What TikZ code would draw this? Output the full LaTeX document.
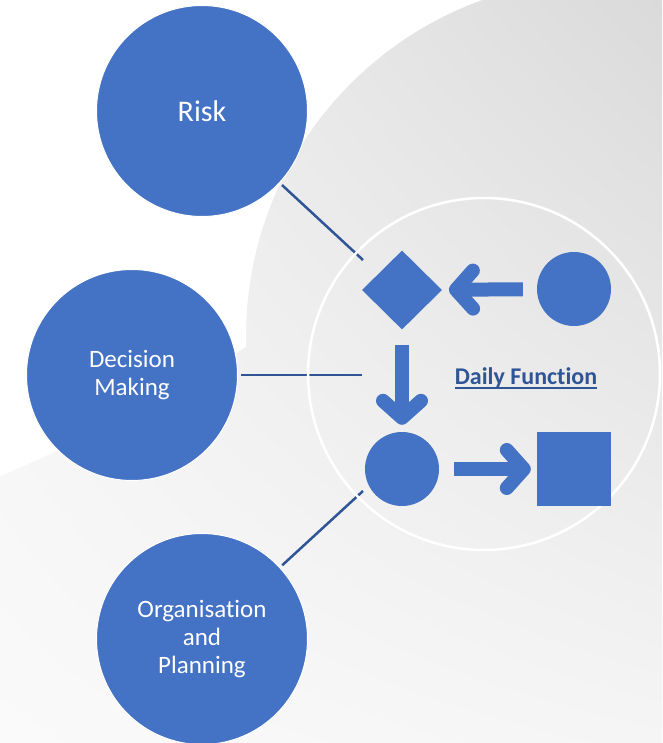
\documentclass[tikz,border=0pt]{standalone}
\usepackage{fontspec}
\setmainfont{Carlito}[Ligatures={NoCommon}]
\usetikzlibrary{arrows.meta,shapes.geometric,shadings}
\definecolor{blu}{HTML}{4472C4}
\definecolor{lineblue}{HTML}{2F5597}
\definecolor{txtblue}{HTML}{2F5597}
\definecolor{bgUL}{RGB}{242,242,242}
\definecolor{bgUR}{RGB}{218,218,218}
\definecolor{bgLL}{RGB}{250,250,250}
\definecolor{bgLR}{RGB}{245,245,245}
\newcommand\dailyul[1]{\leavevmode\setbox0=\hbox{#1}\rlap{\vrule height -3pt depth 4.8pt width \wd0}\box0}
\begin{document}
\begin{tikzpicture}[x=1pt,y=-1pt,
  bigcirc/.style={circle, fill=blu, draw=white, line width=1pt, minimum size=211pt, inner sep=0pt,
    text=white, align=center, font=\fontsize{25}{28}\selectfont},
  smallshape/.style={fill=blu, inner sep=0pt},
  link/.style={draw=lineblue, line width=2.5pt, shorten <=3pt},
  flow/.style={draw=blu, line width=14pt, -{Straight Barb[length=17pt,width=38pt,round]}},
]
\useasboundingbox (0,0) rectangle (662,743);
% background
\shade[upper left=bgUL, upper right=bgUR, lower left=bgLL, lower right=bgLR] (0,0) rectangle (662,743);
\begin{scope}[even odd rule]
  \clip (-10,-30) rectangle (672,753) (603,336) circle (357);
  \fill[white] (-10,-25) -- (-10,480) -- (0,476) .. controls (70,447) and (180,392) .. (262,336) -- (720,-25) -- cycle;
\end{scope}

% main circles
\node[bigcirc, font=\fontsize{30}{34}\selectfont] (risk) at (202,111) {Risk};
\node[bigcirc] (dec) at (132,375) {Decision\\Making};
\node[bigcirc] (org) at (202,639) {Organisation\\and\\Planning};

% links
\coordinate (rend) at (363,260);
\coordinate (dend) at (362,375);
\coordinate (oend) at (363,491);
\draw[link] (risk) -- (rend);
\draw[link] (dec) -- (dend);
\draw[link] (org) -- (oend);

% ring
\node[circle, draw=white, line width=2.5pt, minimum size=352pt, inner sep=0pt] (ring) at (484,374) {};

% process shapes
\node[diamond, smallshape, minimum width=80pt, minimum height=79pt] (dia) at (402,290) {};
\node[circle, smallshape, minimum size=74pt] (c1) at (574,289) {};
\node[circle, smallshape, minimum size=74pt] (c2) at (402,469) {};
\node[rectangle, smallshape, minimum size=74pt] (sq) at (574,469) {};

% flow arrows
\draw[flow, shorten <=14pt, shorten >=7pt] (c1) -- (dia);
\draw[flow, shorten <=15pt, shorten >=7pt] (dia) -- (c2);
\draw[flow, shorten <=15pt, shorten >=6pt] (c2) -- (sq);

% label
\node[text=txtblue, font=\bfseries\fontsize{24}{28}\selectfont, inner sep=0pt] (daily) at (526,378) {\dailyul{Daily Function}};
\end{tikzpicture}
\end{document}
